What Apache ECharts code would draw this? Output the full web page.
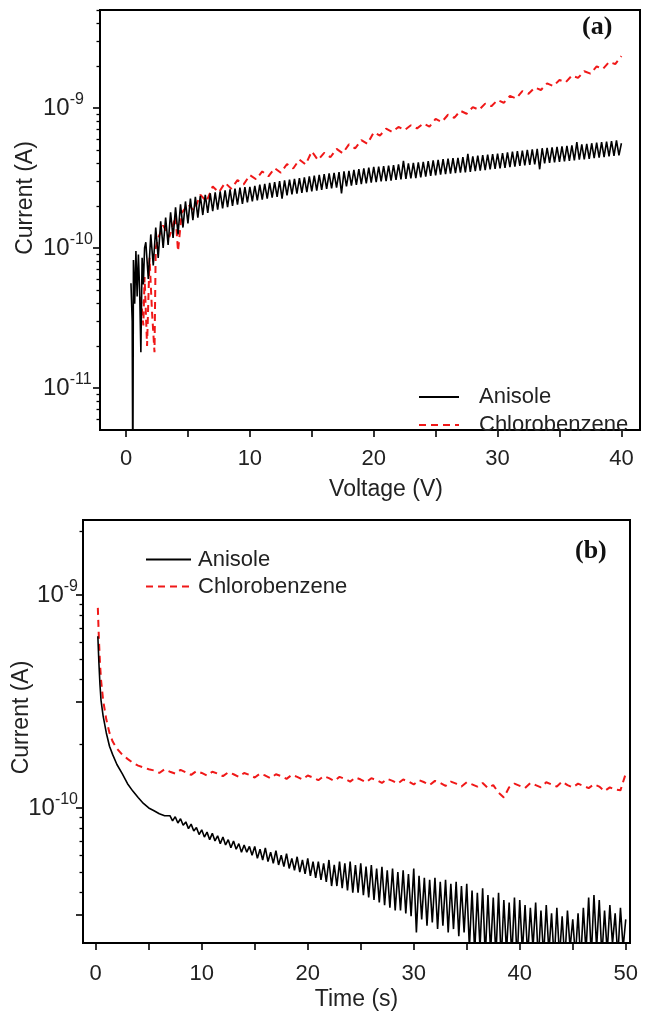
<!DOCTYPE html>
<html><head><meta charset="utf-8">
<script src="https://cdn.jsdelivr.net/npm/echarts@6/dist/echarts.min.js"></script>
<style>html,body{margin:0;padding:0;background:#fff}#c{width:645px;height:1018px}</style>
</head><body><div id="c"></div>
<script>
// ---------- (a) current vs voltage : [voltage V, current pA] ----------
const ivAnisole = [
[0.4,56],[0.5,30],[0.55,2],[0.6,82],[0.7,40],[0.8,95],[0.9,45],[1.0,90],[1.1,50],[1.2,18],[1.3,85],[1.4,55],[1.5,100],
[1.6,110],[1.8,60],[2.0,125],[2.2,75],[2.4,140],[2.6,85],[2.8,155],[3.0,100],[3.2,165],[3.4,105],[3.6,180],[3.8,118],
[4.0,195],[4.2,125],[4.4,205],[4.6,140],[4.8,215],[5.0,150],[5.2,225],[5.4,158],[5.6,232],[5.8,165],[6.0,236],[6.2,172],
[6.4,240],[6.6,178],[6.8,246],[7.0,183],[7.2,250],[7.4,188],[7.6,254],[7.8,192],[8.0,258],[8.2,196],[8.4,262],[8.6,200],
[8.8,266],[9.0,204],[9.2,270],[9.4,207],[9.6,272],[9.8,212],
[10.0,273],[10.2,215],[10.4,278],[10.6,219],[10.8,283],[11.0,222],[11.2,287],[11.4,225],[11.6,292],[11.8,229],[12.0,296],
[12.2,232],[12.4,300],[12.6,225],[12.8,304],[13.0,238],[13.2,308],[13.4,242],[13.6,312],[13.8,245],[14.0,316],[14.2,248],
[14.4,320],[14.6,251],[14.8,325],[15.0,254],[15.2,329],[15.4,257],[15.6,333],[15.8,260],[16.0,337],[16.2,264],[16.4,341],
[16.6,267],[16.8,344],[17.0,270],[17.2,348],[17.4,245],[17.6,353],[17.8,276],[18.0,356],[18.2,279],[18.4,361],[18.6,283],
[18.8,366],[19.0,286],[19.2,370],[19.4,290],[19.6,375],[19.8,293],[20.0,379],[20.2,296],[20.4,381],[20.6,299],[20.8,385],
[21.0,301],[21.2,388],[21.4,303],[21.6,391],[21.8,307],[22.0,396],[22.2,309],[22.4,420],[22.6,312],[22.8,402],[23.0,314],
[23.2,405],[23.4,316],[23.6,409],[23.8,320],[24.0,412],[24.2,323],[24.4,417],[24.6,327],[24.8,422],[25.0,330],[25.2,426],
[25.4,334],[25.6,431],[25.8,337],[26.0,435],[26.2,340],[26.4,438],[26.6,342],[26.8,441],[27.0,345],[27.2,445],[27.4,347],
[27.6,470],[27.8,350],[28.0,452],[28.2,354],[28.4,456],[28.6,357],[28.8,460],[29.0,360],[29.2,464],[29.4,364],[29.6,468],
[29.8,367],[30.0,472],[30.2,370],[30.4,477],[30.6,374],[30.8,482],[31.0,378],[31.2,487],[31.4,382],[31.6,492],[31.8,386],
[32.0,497],[32.2,389],[32.4,502],[32.6,393],[32.8,506],[33.0,396],[33.2,511],[33.4,365],[33.6,516],[33.8,403],[34.0,520],
[34.2,406],[34.4,524],[34.6,409],[34.8,528],[35.0,413],[35.2,532],[35.4,415],[35.6,536],[35.8,419],[36.0,540],[36.2,423],
[36.4,570],[36.6,427],[36.8,550],[37.0,430],[37.2,555],[37.4,434],[37.6,560],[37.8,438],[38.0,565],[38.2,442],[38.4,570],
[38.6,446],[38.8,576],[39.0,451],[39.2,581],[39.4,455],[39.6,587],[39.8,459],[40.0,560]
];
const ivChloro = [
[1.2,45],[1.4,28],[1.5,62],[1.7,20],[1.9,85],[2.1,35],[2.3,18],[2.4,100],[2.6,118],[3.0,145],[3.5,120],[4.0,168],[4.2,95],
[4.5,178],[5.0,205],[5.5,185],[6.0,240],[6.5,215],[7.0,275],[7.5,250],[8.0,292],[8.5,265],[9.0,305],[9.5,285],[10.0,332],
[10.5,310],[11.0,352],[11.5,325],[12.0,372],[12.5,345],[13.0,398],[13.5,370],[14.0,428],[14.5,395],[15.0,490],[15.5,425],
[16.0,478],[16.5,445],[17.0,510],[17.5,475],[18.0,550],[18.5,515],[19.0,590],[19.5,555],[20.0,670],[20.5,635],[21.0,712],
[21.5,675],[22.0,732],[22.5,695],[23.0,752],[23.5,715],[24.0,775],[24.5,735],[25.0,835],[25.5,795],[26.0,895],[26.5,850],
[27.0,955],[27.5,910],[28.0,1015],[28.5,970],[29.0,1075],[29.5,1030],[30.0,1140],[30.5,1090],[31.0,1220],[31.5,1170],
[32.0,1320],[32.5,1265],[33.0,1400],[33.5,1345],[34.0,1500],[34.5,1435],[35.0,1585],[35.5,1525],[36.0,1705],[36.5,1640],
[37.0,1830],[37.5,1760],[38.0,1980],[38.5,1900],[39.0,2130],[39.5,2060],[40.0,2350]
];
// ---------- (b) current vs time : [time s, current pA] ----------
const itAnisole = [
[0.2,640],[0.3,480],[0.4,380],[0.5,320],[0.7,270],[1.0,225],[1.3,195],[1.6,178],[2.0,160],[2.5,145],[3.0,130],[3.5,120],
[4.0,112],[4.5,105],[5.0,100],[5.5,97],[6.0,94],[6.5,92],
[7.0,92],[7.25,87],[7.5,91],[7.75,85],[8.0,89],[8.25,83],[8.5,86],[8.75,80],[9.0,84],[9.25,78],[9.5,81],[9.75,75],
[10.0,79],[10.25,73],[10.5,77],[10.75,71],[11.0,76],[11.25,70],[11.5,74],[11.75,68],[12.0,73],[12.25,67],[12.5,71],
[12.75,65],[13.0,70],[13.25,64],[13.5,68],[13.75,62],[14.0,67],[14.25,62],[14.5,66],[14.75,60],[15.0,66],[15.25,58],
[15.5,64],[15.75,57],[16.0,65],[16.25,56],[16.5,62],[16.75,55],[17.0,63],[17.25,54],[17.5,60],[17.75,53],[18.0,61],
[18.25,52],[18.5,58],[18.75,51],[19.0,59],[19.25,50],[19.5,57],[19.75,49],[20.0,58],[20.25,48],[20.5,56],[20.75,47],
[21.0,56],[21.25,46],[21.5,55],[21.75,45],[22.0,57],[22.25,43],[22.5,54],[22.75,43],[23.0,56],[23.25,42],[23.5,55],
[23.75,41],[24.0,56],[24.25,40],[24.5,54],[24.75,40],[25.0,55],[25.25,39],[25.5,53],[25.75,38],[26.0,54],[26.25,37],
[26.5,52],[26.75,36],[27.0,53],[27.25,35],[27.5,51],[27.75,34],[28.0,52],[28.25,33],[28.5,50],[28.75,33],[29.0,51],
[29.25,32],[29.5,49],[29.75,31],[30.0,52],[30.25,26],[30.5,48],[30.75,30],[31.0,47],[31.25,28],[31.5,46],[31.75,29],
[32.0,47],[32.25,27],[32.5,45],[32.75,28],[33.0,46],[33.25,26],[33.5,44],[33.75,27],[34.0,45],[34.25,25],[34.5,43],
[34.75,26],[35.0,44],[35.25,22],[35.5,41],[35.75,21],[36.0,40],[36.25,22],[36.5,42],[36.75,20],[37.0,39],[37.25,21],
[37.5,38],[37.75,20],[38.0,40],[38.25,19],[38.5,37],[38.75,21],[39.0,36],[39.25,20],[39.5,38],[39.75,19],[40.0,37],
[40.25,21],[40.5,35],[40.75,20],[41.0,34],[41.25,22],[41.5,36],[41.75,19],[42.0,33],[42.25,20],[42.5,35],[42.75,21],
[43.0,32],[43.25,19],[43.5,34],[43.75,20],[44.0,31],[44.25,19],[44.5,33],[44.75,22],[45.0,30],[45.25,20],[45.5,32],
[45.75,19],[46.0,34],[46.25,21],[46.5,38],[46.75,20],[47.0,39],[47.25,22],[47.5,37],[47.75,20],[48.0,33],[48.25,21],
[48.5,35],[48.75,23],[49.0,32],[49.25,20],[49.5,34],[49.75,22],[50.0,30]
];
const itChloro = [
[0.2,870],[0.3,620],[0.4,480],[0.5,400],[0.7,320],[1.0,260],[1.3,225],[1.6,205],[2.0,190],[2.5,178],[3.0,170],[3.5,163],
[4.0,158],[4.5,155],[5.0,152],[5.5,150],[6.0,146],[6.5,152],[7.0,148],[7.5,145],[8.0,151],[8.5,147],[9.0,143],[9.5,149],
[10.0,146],[10.5,142],[11.0,148],[11.5,145],[12.0,141],[12.5,147],[13.0,144],[13.5,140],[14.0,146],[14.5,143],[15.0,139],
[15.5,145],[16.0,142],[16.5,138],[17.0,144],[17.5,141],[18.0,137],[18.5,143],[19.0,140],[19.5,136],[20.0,142],[20.5,139],
[21.0,135],[21.5,141],[22.0,138],[22.5,134],[23.0,140],[23.5,137],[24.0,133],[24.5,139],[25.0,136],[25.5,132],[26.0,138],
[26.5,135],[27.0,131],[27.5,137],[28.0,134],[28.5,130],[29.0,136],[29.5,133],[30.0,129],[30.5,135],[31.0,132],[31.5,128],
[32.0,134],[32.5,131],[33.0,127],[33.5,133],[34.0,130],[34.5,126],[35.0,132],[35.5,129],[36.0,126],[36.5,131],[37.0,124],
[37.5,128],[38.0,118],[38.5,112],[39.0,125],[39.5,130],[40.0,127],[40.5,124],[41.0,131],[41.5,128],[42.0,125],[42.5,132],
[43.0,129],[43.5,126],[44.0,133],[44.5,128],[45.0,125],[45.5,130],[46.0,127],[46.5,124],[47.0,129],[47.5,126],[48.0,120],
[48.5,125],[49.0,122],[49.5,121],[50.0,145]
];
// ---------- ticks ----------
const xTicksA = [0,5,10,15,20,25,30,35,40];
const xLabelsA = [0,10,20,30,40];
const xTicksB = [0,5,10,15,20,25,30,35,40,45,50];
const xLabelsB = [0,10,20,30,40,50];
const yExpA = [-11,-10,-9];      // labelled decades, panel (a)
const yExpB = [-10,-9];          // labelled decades, panel (b)
const seriesNames = ['Anisole','Chlorobenzene'];

const FONT = '"Liberation Sans", Arial, sans-serif';
const toLog = arr => arr.map(p => [p[0], Math.log10(p[1] * 1e-12)]);
function minorTicks(lo, hi, skip) {
  const out = [];
  for (let n = Math.floor(lo) - 1; n <= Math.ceil(hi); n++)
    for (let k = 2; k <= 9; k++) {
      if (skip && skip.indexOf(k) >= 0) continue;
      const v = n + Math.log10(k);
      if (v > lo + 1e-6 && v < hi - 1e-6) out.push(v);
    }
  return out;
}
const yLimA = [-11.3, -8.3];
const yLimB = [-10.634, -8.648];

const labelRich = {
  b: {fontSize: 24, fontFamily: FONT, color: '#222', lineHeight: 32},
  s: {fontSize: 16, fontFamily: FONT, color: '#222', verticalAlign: 'top', lineHeight: 17}
};
function mainY(grid, lim, exps, majors, margin, align, nameGap, namePad) {
  return {
    gridIndex: grid, type: 'value', min: lim[0], max: lim[1], position: 'left',
    axisLine: {show: true, onZero: false, lineStyle: {color: '#000', width: 2}},
    axisTick: {show: true, customValues: majors, length: 7, lineStyle: {color: '#000', width: 1.6}},
    axisLabel: {customValues: exps, margin: margin, align: align, formatter: v => '{b|10}{s|' + v + '}', rich: labelRich},
    splitLine: {show: false},
    name: 'Current (A)', nameLocation: 'middle', nameGap: nameGap, nameMoveOverlap: false,
    nameTextStyle: {fontSize: 23, fontFamily: FONT, color: '#222', padding: namePad}
  };
}
function minorY(grid, lim, skip) {
  return {
    gridIndex: grid, type: 'value', min: lim[0], max: lim[1], position: 'left', offset: 0,
    axisLine: {show: false, onZero: false},
    axisTick: {show: true, customValues: minorTicks(lim[0], lim[1], skip), length: 3.5, lineStyle: {color: '#000', width: 1.3}},
    axisLabel: {show: false}, splitLine: {show: false}
  };
}
function xAx(grid, min, max, ticks, labels, name, gap, margin, pad) {
  return {
    gridIndex: grid, type: 'value', min: min, max: max,
    axisLine: {onZero: false, lineStyle: {color: '#000', width: 2}},
    axisTick: {customValues: ticks, length: 7, lineStyle: {color: '#000', width: 1.6}},
    axisLabel: {customValues: labels, fontSize: 22, fontFamily: FONT, color: '#222', margin: margin},
    splitLine: {show: false},
    name: name, nameLocation: 'middle', nameGap: gap, nameMoveOverlap: false,
    nameTextStyle: {fontSize: 23, fontFamily: FONT, color: '#222', padding: pad}
  };
}
const RED = '#f01818';
const hiddenSymbol = {color: 'rgba(0,0,0,0)', borderWidth: 0, opacity: 0};
const option = {
  animation: false,
  backgroundColor: '#fff',
  textStyle: {fontFamily: FONT},
  grid: [
    {left: 100, top: 10, right: 5, bottom: 588, show: true, borderColor: '#000', borderWidth: 2, outerBoundsMode: 'none'},
    {left: 83, top: 520, right: 15, bottom: 75, show: true, borderColor: '#000', borderWidth: 2, outerBoundsMode: 'none'}
  ],
  xAxis: [
    xAx(0, -2.1, 41.5, xTicksA, xLabelsA, 'Voltage (V)', 48, 18, [0, 0, 0, 32]),
    xAx(1, -1.2, 50.4, xTicksB, xLabelsB, 'Time (s)', 45, 20, [0, 0, 0, 0])
  ],
  yAxis: [
    mainY(0, yLimA, yExpA, yExpA, 57, 'left', 63, [0, 0, 0, 44]),
    minorY(0, yLimA, null),
    mainY(1, yLimB, yExpB, [-10.5, -10, -9.5, -9], 5, 'right', 50, [0, 0, 0, 28]),
    minorY(1, yLimB, [3])
  ],
  legend: [
    {orient: 'vertical', left: 418, top: 383, padding: 0, itemWidth: 40, itemHeight: 12, itemGap: 0,
     data: seriesNames, selectedMode: false, itemStyle: hiddenSymbol,
     textStyle: {fontSize: 22, fontFamily: FONT, color: '#222', lineHeight: 28, padding: [0, 0, 0, 15]}},
    {orient: 'vertical', left: 145, top: 546, padding: 0, itemWidth: 45, itemHeight: 12, itemGap: 0,
     data: seriesNames, selectedMode: false, itemStyle: hiddenSymbol,
     textStyle: {fontSize: 22, fontFamily: FONT, color: '#222', lineHeight: 27, padding: [0, 0, 0, 2]}}
  ],
  graphic: [
    {type: 'text', left: 582, top: 14, style: {text: '(a)', font: 'bold 26px "Liberation Serif", serif', fill: '#111'}},
    {type: 'text', left: 575, top: 538, style: {text: '(b)', font: 'bold 26px "Liberation Serif", serif', fill: '#111'}}
  ],
  series: [
    {name: seriesNames[0], type: 'line', xAxisIndex: 0, yAxisIndex: 0, data: toLog(ivAnisole), symbol: 'none', showSymbol: false,
     clip: true, lineStyle: {color: '#000', width: 1.6}, itemStyle: {color: '#000'}, z: 3},
    {name: seriesNames[1], type: 'line', xAxisIndex: 0, yAxisIndex: 0, data: toLog(ivChloro), symbol: 'none', showSymbol: false,
     clip: true, lineStyle: {color: RED, width: 2, type: [7, 5]}, itemStyle: {color: RED}, z: 2},
    {name: seriesNames[0], type: 'line', xAxisIndex: 1, yAxisIndex: 2, data: toLog(itAnisole), symbol: 'none', showSymbol: false,
     clip: true, lineStyle: {color: '#000', width: 1.6}, itemStyle: {color: '#000'}, z: 3},
    {name: seriesNames[1], type: 'line', xAxisIndex: 1, yAxisIndex: 2, data: toLog(itChloro), symbol: 'none', showSymbol: false,
     clip: true, lineStyle: {color: RED, width: 2, type: [7, 5]}, itemStyle: {color: RED}, z: 2}
  ]
};
const chart = echarts.init(document.getElementById('c'), null, {renderer: 'canvas'});
chart.setOption(option);
</script></body></html>
